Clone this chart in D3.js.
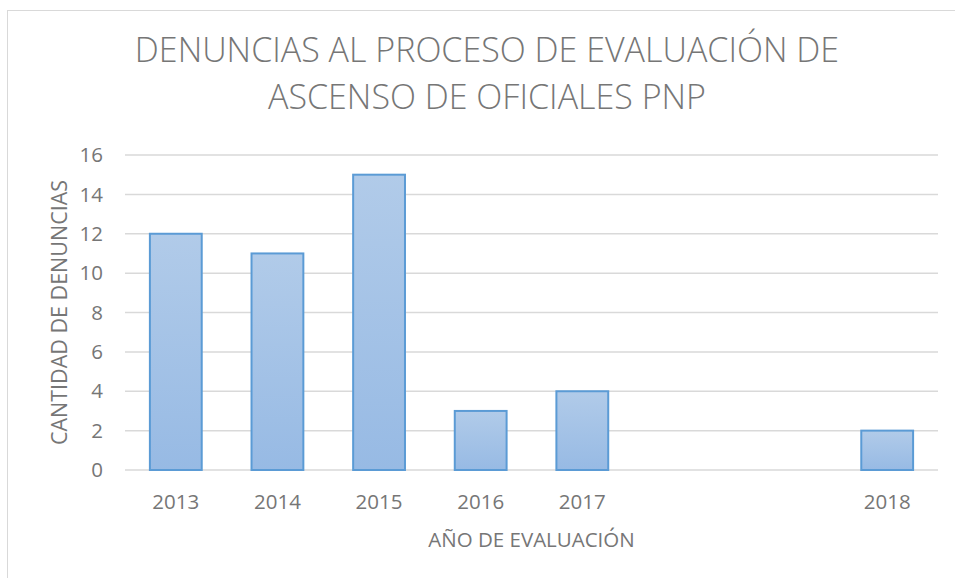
<!DOCTYPE html>
<meta charset="utf-8">
<script src="https://d3js.org/d3.v7.min.js"></script>
<style>
  body { margin: 0; background: #fff; }
  text { font-family: "Open Sans", "Noto Sans", sans-serif; fill: #767676; }
</style>
<svg id="chart" width="955" height="578"></svg>
<script>

  // data
  var years  = ["2013", "2014", "2015", "2016", "2017", "", " ", "2018"];
  var counts = [12, 11, 15, 3, 4, null, null, 2];
  var yTicks = [0, 2, 4, 6, 8, 10, 12, 14, 16];
  var titleLines = ["DENUNCIAS AL PROCESO DE EVALUACIÓN DE", "ASCENSO DE OFICIALES PNP"];

  var svg = d3.select("svg"),
      width = +svg.attr("width"),
      height = +svg.attr("height");

  var margin = {left: 125, right: 17, top: 155, bottom: 108};

  // gradient for the bars
  var grad = svg.append("defs").append("linearGradient")
      .attr("id", "barFill")
      .attr("x1", 0).attr("y1", 0).attr("x2", 0).attr("y2", 1);
  grad.append("stop").attr("offset", "0%").attr("stop-color", "#b1cbe9");
  grad.append("stop").attr("offset", "100%").attr("stop-color", "#97bae4");

  // chart frame
  svg.append("rect")
      .attr("x", 7.5).attr("y", 10.5)
      .attr("width", 1000).attr("height", 1000)
      .attr("fill", "none")
      .attr("stroke", "#d9d9d9")
      .attr("stroke-width", 1);

  var x = d3.scaleBand()
      .domain(years)
      .range([margin.left, width - margin.right])
      .paddingInner(0.49)
      .paddingOuter(0.245);

  var y = d3.scaleLinear()
      .domain([0, 16])
      .range([height - margin.bottom, margin.top]);

  // gridlines
  svg.append("g")
    .selectAll("line")
    .data(yTicks)
    .enter()
    .append("line")
      .attr("x1", margin.left)
      .attr("x2", width - margin.right)
      .attr("y1", function(d) { return y(d); })
      .attr("y2", function(d) { return y(d); })
      .attr("stroke", "#d9d9d9")
      .attr("stroke-width", 1.5);

  // y tick labels
  svg.append("g")
    .selectAll("text")
    .data(yTicks)
    .enter()
    .append("text")
      .attr("x", 103)
      .attr("y", function(d) { return y(d); })
      .attr("dy", "0.35em")
      .attr("text-anchor", "end")
      .style("font-size", "20.5px")
      .text(function(d) { return d; });

  // bars
  var data = years.map(function(d, i) { return {year: d, n: counts[i]}; })
                  .filter(function(d) { return d.n !== null; });

  svg.append("g")
    .selectAll("rect")
    .data(data)
    .enter()
    .append("rect")
      .attr("x", function(d) { return x(d.year); })
      .attr("y", function(d) { return y(d.n); })
      .attr("width", x.bandwidth())
      .attr("height", function(d) { return y(0) - y(d.n); })
      .attr("fill", "url(#barFill)")
      .attr("stroke", "#5b9bd5")
      .attr("stroke-width", 2);

  // x tick labels
  svg.append("g")
    .selectAll("text")
    .data(years.filter(function(d) { return d.trim() !== ""; }))
    .enter()
    .append("text")
      .attr("x", function(d) { return x(d) + x.bandwidth() / 2; })
      .attr("y", 509)
      .attr("text-anchor", "middle")
      .style("font-size", "20.5px")
      .text(function(d) { return d; });

  // axis titles
  svg.append("text")
      .attr("x", (margin.left + width - margin.right) / 2)
      .attr("y", 547)
      .attr("text-anchor", "middle")
      .style("font-size", "20.5px")
      .text("AÑO DE EVALUACIÓN");

  svg.append("text")
      .attr("transform", "translate(67," + (y(8)) + ") rotate(-90)")
      .attr("text-anchor", "middle")
      .style("font-size", "21.5px")
      .text("CANTIDAD DE DENUNCIAS");

  // title
  svg.append("g")
    .selectAll("text")
    .data(titleLines)
    .enter()
    .append("text")
      .attr("x", 487)
      .attr("y", function(d, i) { return 62 + i * 47; })
      .attr("text-anchor", "middle")
      .style("font-size", "34px")
      .style("font-weight", 300)
      .text(function(d) { return d; });

</script>
